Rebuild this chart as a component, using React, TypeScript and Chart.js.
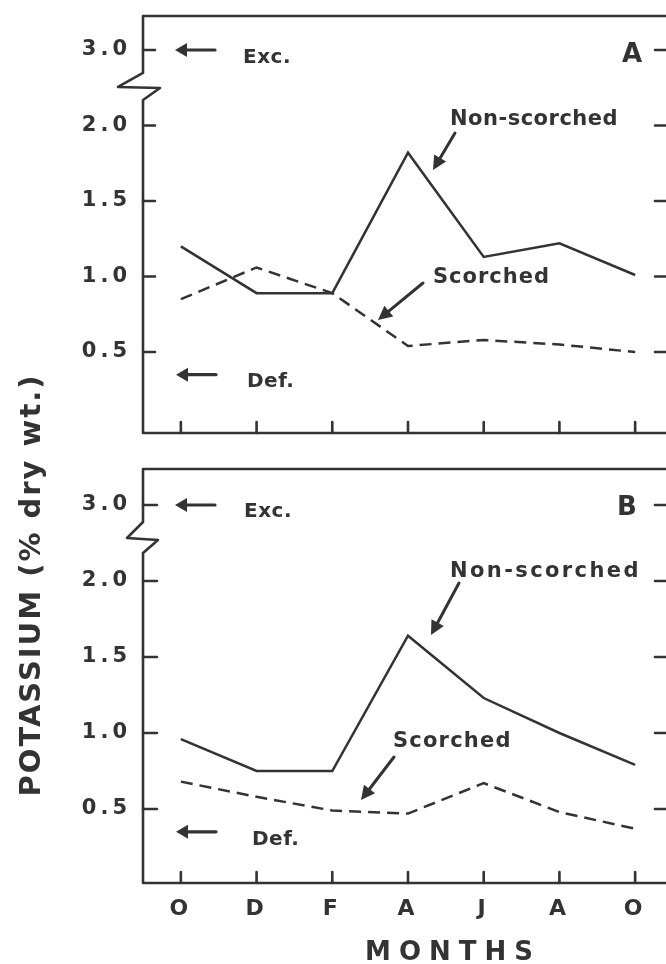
import React, { useEffect, useRef } from 'react';
import { Chart, registerables } from 'chart.js';

Chart.register(...registerables);

// ---------- data ----------
const months = ['O', 'D', 'F', 'A', 'J', 'A', 'O'];
const yTickValues = [0.5, 1.0, 1.5, 2.0, 2.5];
const yTickLabels = ['0.5', '1.0', '1.5', '2.0', '3.0']; // axis is broken: 2.5 position shows 3.0
const nonScorchedA = [1.2, 0.89, 0.89, 1.82, 1.13, 1.22, 1.01];
const scorchedA = [0.85, 1.06, 0.89, 0.54, 0.58, 0.55, 0.5];
const nonScorchedB = [0.96, 0.75, 0.75, 1.64, 1.23, 1.0, 0.79];
const scorchedB = [0.68, 0.58, 0.49, 0.47, 0.67, 0.48, 0.37];
const excLevel = 2.5; // "Exc." arrow (3.0 on broken axis)
const defLevel = 0.35; // "Def." arrow

const INK = '#333333';
const FONT = '"DejaVu Sans", sans-serif';
const CANVAS_W = 690;
const CANVAS_H = 964;
const AXIS_LEFT = 143;
const AREA_RIGHT = 673;

type Txt = { t: string; x: number; y: number; size: number; ls: number };
type Arr = [number, number, number, number];

interface PanelCfg {
  letter: string;
  top: number;
  bottom: number;
  yMin: number;
  yMax: number;
  nonScorched: number[];
  scorched: number[];
  showX: boolean;
  zig: [number, number][];
  leftTick: number;
  letterPos: { x: number; dy: number };
  excText: { x: number; dy: number };
  defText: { x: number; dy: number };
  texts: Txt[];
  arrows: Arr[];
}

const panels: PanelCfg[] = [
  {
    letter: 'A',
    top: 16,
    bottom: 433,
    yMin: -0.036,
    yMax: 2.725,
    nonScorched: nonScorchedA,
    scorched: scorchedA,
    showX: false,
    zig: [[0, 23], [-25, 37], [17, 38], [0, 50]],
    leftTick: 12,
    letterPos: { x: 622, dy: 12 },
    excText: { x: 243, dy: 13 },
    defText: { x: 247, dy: 12 },
    texts: [
      { t: 'Non-scorched', x: 450, y: 125, size: 21, ls: 0.5 },
      { t: 'Scorched', x: 433, y: 283, size: 21, ls: 1 },
    ],
    arrows: [
      [455, 133, 433, 170],
      [423, 283, 378, 320],
    ],
  },
  {
    letter: 'B',
    top: 469,
    bottom: 883,
    yMin: 0.013,
    yMax: 2.737,
    nonScorched: nonScorchedB,
    scorched: scorchedB,
    showX: true,
    zig: [[0, 17], [-16, 33], [15, 35], [0, 48]],
    leftTick: 14,
    letterPos: { x: 617, dy: 10 },
    excText: { x: 244, dy: 12 },
    defText: { x: 252, dy: 13 },
    texts: [
      { t: 'Non-scorched', x: 450, y: 577, size: 21, ls: 2.4 },
      { t: 'Scorched', x: 393, y: 747, size: 21, ls: 1.2 },
    ],
    arrows: [
      [459, 583, 431, 635],
      [394, 757, 361, 800],
    ],
  },
];

function drawText(ctx: CanvasRenderingContext2D, s: string, x: number, y: number, size: number, ls: number, align: CanvasTextAlign = 'left') {
  ctx.save();
  ctx.font = `bold ${size}px ${FONT}`;
  (ctx as any).letterSpacing = `${ls}px`;
  ctx.fillStyle = INK;
  ctx.textAlign = align;
  ctx.textBaseline = 'alphabetic';
  ctx.fillText(s, align === 'center' ? x + ls / 2 : x, y);
  ctx.restore();
}

function drawArrow(ctx: CanvasRenderingContext2D, x1: number, y1: number, x2: number, y2: number, head = 12, half = 6, w = 2.6) {
  const a = Math.atan2(y2 - y1, x2 - x1);
  const bx = x2 - head * Math.cos(a);
  const by = y2 - head * Math.sin(a);
  ctx.save();
  ctx.strokeStyle = INK;
  ctx.fillStyle = INK;
  ctx.lineWidth = w;
  ctx.lineCap = 'round';
  ctx.beginPath();
  ctx.moveTo(x1, y1);
  ctx.lineTo(bx + Math.cos(a) * 2, by + Math.sin(a) * 2);
  ctx.stroke();
  ctx.beginPath();
  ctx.moveTo(x2, y2);
  ctx.lineTo(bx + half * Math.sin(a), by - half * Math.cos(a));
  ctx.lineTo(bx - half * Math.sin(a), by + half * Math.cos(a));
  ctx.closePath();
  ctx.fill();
  ctx.restore();
}

function makeDecor(cfg: PanelCfg) {
  return {
    id: 'decor' + cfg.letter,
    beforeDraw(chart: any) {
      (chart.ctx as any).letterSpacing = '4px';
    },
    afterDraw(chart: any) {
      const ctx: CanvasRenderingContext2D = chart.ctx;
      const ca = chart.chartArea;
      const x = chart.scales.x;
      const y = chart.scales.y;
      ctx.save();
      (ctx as any).letterSpacing = '0px';
      ctx.strokeStyle = INK;
      ctx.lineWidth = 2.6;
      ctx.lineCap = 'round';
      ctx.lineJoin = 'round';
      const excY = y.getPixelForValue(excLevel);
      // frame
      ctx.beginPath();
      ctx.moveTo(ca.left, ca.bottom);
      ctx.lineTo(ca.right, ca.bottom);
      ctx.lineTo(ca.right, ca.top);
      ctx.lineTo(ca.left, ca.top);
      for (const [dx, dy] of cfg.zig) ctx.lineTo(ca.left + dx, excY + dy);
      ctx.lineTo(ca.left, ca.bottom);
      ctx.stroke();
      // inward ticks
      ctx.beginPath();
      for (const v of yTickValues) {
        const py = y.getPixelForValue(v);
        ctx.moveTo(ca.left, py);
        ctx.lineTo(ca.left + cfg.leftTick, py);
        ctx.moveTo(ca.right - 18, py);
        ctx.lineTo(ca.right, py);
      }
      months.forEach((_, i) => {
        const px = x.getPixelForValue(i);
        ctx.moveTo(px, ca.bottom);
        ctx.lineTo(px, ca.bottom - 11);
      });
      ctx.stroke();
      ctx.restore();

      // Exc. / Def. markers
      const defY = y.getPixelForValue(defLevel);
      drawArrow(ctx, ca.left + 72, excY, ca.left + 32, excY, 12, 7, 3.2);
      drawText(ctx, 'Exc.', cfg.excText.x, excY + cfg.excText.dy, 20, 0.5);
      drawArrow(ctx, ca.left + 73, defY, ca.left + 33, defY, 12, 7, 3.2);
      drawText(ctx, 'Def.', cfg.defText.x, defY + cfg.defText.dy, 20, 0.5);
      // panel letter
      drawText(ctx, cfg.letter, cfg.letterPos.x, excY + cfg.letterPos.dy, 26, 0);
      // series labels
      for (const t of cfg.texts) drawText(ctx, t.t, t.x, t.y, t.size, t.ls);
      for (const a of cfg.arrows) drawArrow(ctx, a[0], a[1], a[2], a[3], 14, 7, 3);

      if (cfg.showX) {
        drawText(ctx, 'MONTHS', 449, 960, 26, 8, 'center');
        ctx.save();
        ctx.translate(29, 586);
        ctx.rotate(-Math.PI / 2);
        drawText(ctx, 'POTASSIUM (% dry wt.)', 0, 11, 29, 2, 'center');
        ctx.restore();
      }
    },
  };
}

function Panel({ cfg }: { cfg: PanelCfg }) {
  const ref = useRef<HTMLCanvasElement>(null);
  useEffect(() => {
    const canvas = ref.current!;
    const chart = new Chart(canvas, {
      type: 'line',
      data: {
        labels: months,
        datasets: [
          {
            label: 'Non-scorched',
            data: cfg.nonScorched,
            borderColor: INK,
            borderWidth: 2.5,
            pointRadius: 0,
            tension: 0,
            fill: false,
          },
          {
            label: 'Scorched',
            data: cfg.scorched,
            borderColor: INK,
            borderWidth: 2.5,
            borderDash: [12, 7],
            pointRadius: 0,
            tension: 0,
            fill: false,
          },
        ],
      },
      options: {
        responsive: false,
        animation: false,
        devicePixelRatio: 1,
        events: [],
        layout: { padding: { left: 0, right: CANVAS_W - AREA_RIGHT, top: cfg.top, bottom: 0 } },
        plugins: { legend: { display: false }, tooltip: { enabled: false } },
        scales: {
          x: {
            type: 'category',
            offset: true,
            grid: { display: false, drawTicks: false },
            border: { display: false },
            ticks: {
              display: cfg.showX,
              color: INK,
              font: { family: FONT, size: 22, weight: 'bold' },
              padding: 13,
              maxRotation: 0,
              autoSkip: false,
            },
            afterFit: (s: any) => {
              s.height = CANVAS_H - cfg.bottom;
              s.paddingLeft = 0;
              s.paddingRight = 0;
            },
          },
          y: {
            type: 'linear',
            min: cfg.yMin,
            max: cfg.yMax,
            grid: { display: false, drawTicks: false },
            border: { display: false },
            ticks: {
              color: INK,
              font: { family: FONT, size: 21, weight: 'bold' },
              padding: 12,
              callback: (v: any) => {
                const i = yTickValues.indexOf(Number(v));
                return i >= 0 ? yTickLabels[i] : '';
              },
            },
            afterBuildTicks: (s: any) => {
              s.ticks = yTickValues.map((v) => ({ value: v }));
            },
            afterFit: (s: any) => {
              s.width = AXIS_LEFT;
              s.paddingTop = 0;
              s.paddingBottom = 0;
            },
          },
        },
      },
      plugins: [makeDecor(cfg)],
    } as any);
    return () => chart.destroy();
  }, [cfg]);
  return (
    <canvas
      ref={ref}
      width={CANVAS_W}
      height={CANVAS_H}
      style={{ position: 'absolute', left: 0, top: 0 }}
    />
  );
}

export default function App() {
  return (
    <div
      style={{
        position: 'fixed',
        left: 0,
        top: 0,
        width: 666,
        height: 964,
        overflow: 'hidden',
        background: '#ffffff',
      }}
    >
      {panels.map((p) => (
        <Panel key={p.letter} cfg={p} />
      ))}
    </div>
  );
}
